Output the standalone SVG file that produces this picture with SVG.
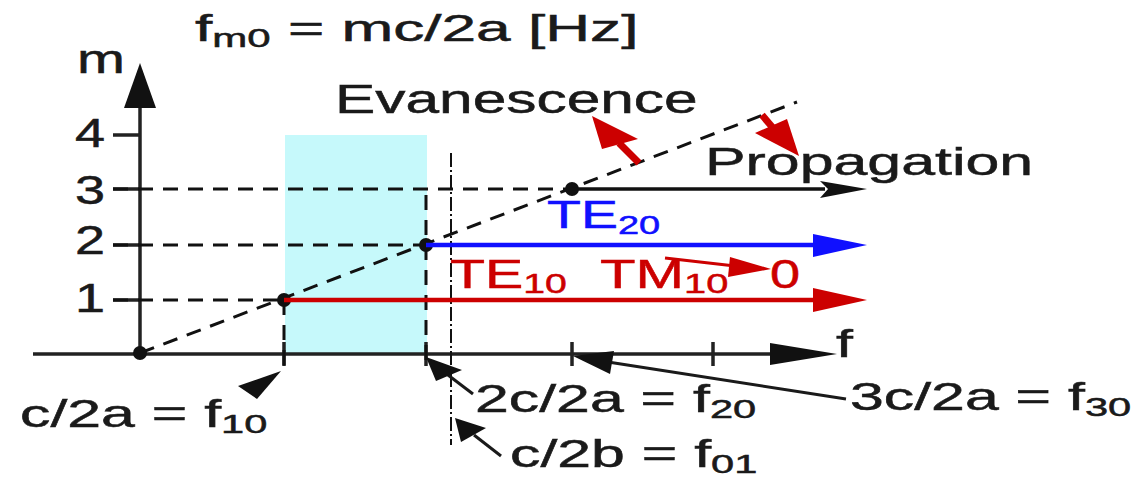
<svg xmlns="http://www.w3.org/2000/svg" width="1135" height="477" viewBox="0 0 1135 477">
<style>
  text { font-family: "Liberation Sans", Arial, sans-serif; fill: #1a1a1a; stroke: #1a1a1a; stroke-width: 0.5; }
  .blue { fill: #1010ff; stroke: #1010ff; }
  .red { fill: #cc0000; stroke: #cc0000; }
  .axis { stroke: #222; stroke-width: 3.5; fill: none; }
  .dash { stroke: #111; stroke-width: 3; stroke-dasharray: 15 10; fill: none; }
  .dashdot { stroke: #111; stroke-width: 2; stroke-dasharray: 14 3 2 3; fill: none; }
  .ptr { stroke: #1a1a1a; stroke-width: 3; fill: none; }
  .head { fill: #111; stroke: none; }
  .rhead { fill: #cc0000; stroke: none; }
  .dot { fill: #111; }
</style>

<rect id="evanescent-band" x="285" y="135" width="142" height="219" fill="#c6f9fb"/>

<g id="axes">
  <line class="axis" x1="140" y1="354" x2="140" y2="105"/>
  <polygon class="head" points="140,63 124,108 156,108"/>
  <line class="axis" x1="33" y1="354" x2="775" y2="354"/>
  <polygon class="head" points="837,354 770,343 770,365"/>
  <g class="axis">
    <line x1="113" y1="135" x2="140" y2="135"/>
    <line x1="113" y1="189" x2="140" y2="189"/>
    <line x1="113" y1="245" x2="140" y2="245"/>
    <line x1="113" y1="300" x2="140" y2="300"/>
    <line x1="284" y1="342" x2="284" y2="366"/>
    <line x1="426" y1="342" x2="426" y2="366"/>
    <line x1="572" y1="342" x2="572" y2="366"/>
    <line x1="713" y1="342" x2="713" y2="366"/>
  </g>
  <text transform="translate(77,73) scale(1.44,1)" font-size="40">m</text>
  <text transform="translate(836,357) scale(1.6,1)" font-size="38">f</text>
  <text transform="translate(75,147) scale(1.35,1)" font-size="40">4</text>
  <text transform="translate(75,204) scale(1.35,1)" font-size="40">3</text>
  <text transform="translate(75,254) scale(1.35,1)" font-size="40">2</text>
  <text transform="translate(75,312) scale(1.35,1)" font-size="40">1</text>
</g>

<g id="guides">
  <line class="dash" x1="113" y1="189" x2="572" y2="189"/>
  <line class="dash" x1="113" y1="245" x2="426" y2="245"/>
  <line class="dash" x1="113" y1="300" x2="284" y2="300"/>
  <line class="dash" x1="284" y1="300" x2="284" y2="370"/>
  <line class="dash" x1="426" y1="195" x2="426" y2="366"/>
  <line class="dashdot" x1="451" y1="153" x2="451" y2="445"/>
  <line class="dash" x1="140" y1="353" x2="797" y2="102" stroke-dasharray="16 12"/>
</g>

<g id="cutoff-points">
  <circle class="dot" cx="140" cy="353" r="7"/>
  <circle class="dot" cx="284" cy="300" r="7"/>
  <circle class="dot" cx="426" cy="245" r="7"/>
  <circle class="dot" cx="572" cy="189" r="7"/>
</g>

<g id="title">
  <text transform="translate(195,41) scale(1.68,1)" font-size="37">f<tspan font-size="25" dy="6">m0</tspan><tspan dy="-6"> = mc/2a [Hz]</tspan></text>
</g>

<g id="label-evanescence">
  <text transform="translate(335,113) scale(1.51,1)" font-size="40">Evanescence</text>
</g>
<g id="label-propagation">
  <text transform="translate(705,175) scale(1.56,1)" font-size="39">Propagation</text>
</g>

<g id="mode-TE30">
  <line x1="572" y1="189" x2="825" y2="189" stroke="#111" stroke-width="3.5"/>
  <polygon class="head" points="867,189 820,181 828,189 820,198"/>
</g>
<g id="mode-TE20">
  <line x1="426" y1="245" x2="820" y2="245" stroke="#1010ff" stroke-width="4.5"/>
  <polygon points="867,245 813,234 813,257" fill="#1010ff"/>
  <text class="blue" transform="translate(547,228) scale(1.46,1)" font-size="38">TE<tspan font-size="26" dy="6">20</tspan></text>
</g>
<g id="mode-TE10">
  <line x1="284" y1="300" x2="820" y2="300" stroke="#cc0000" stroke-width="4.5"/>
  <polygon class="rhead" points="867,300 813,288 813,312"/>
  <text class="red" transform="translate(450,288) scale(1.40,1)" font-size="41">TE<tspan font-size="28" dy="5">10</tspan></text>
</g>
<g id="mode-TM10">
  <text class="red" transform="translate(600,288) scale(1.42,1)" font-size="41">TM<tspan font-size="28" dy="5">10</tspan></text>
  <text class="red" transform="translate(770,288) scale(1.32,1)" font-size="41">0</text>
</g>

<g id="label-f10">
  <text transform="translate(20,427) scale(1.60,1)" font-size="38">c/2a = f<tspan font-size="26" dy="6">10</tspan></text>
</g>
<g id="label-f20">
  <text transform="translate(475,412) scale(1.60,1)" font-size="38">2c/2a = f<tspan font-size="26" dy="6">20</tspan></text>
</g>
<g id="label-f01">
  <text transform="translate(510,467) scale(1.60,1)" font-size="38">c/2b = f<tspan font-size="26" dy="6">01</tspan></text>
</g>
<g id="label-f30">
  <text transform="translate(850,410) scale(1.60,1)" font-size="38">3c/2a = f<tspan font-size="26" dy="6">30</tspan></text>
</g>

<g id="connectors">
  <line x1="619" y1="143" x2="639" y2="163" stroke="#cc0000" stroke-width="7"/>
  <polygon class="rhead" points="592,116 602,149 638,139"/>
  <line x1="762" y1="115" x2="773" y2="128" stroke="#cc0000" stroke-width="7"/>
  <polygon class="rhead" points="799,156 755,133 787,119"/>
  <line x1="665" y1="258" x2="735" y2="266" stroke="#cc0000" stroke-width="3"/>
  <polygon class="rhead" points="771,269 730,257 728,277"/>
  <polygon class="head" points="281,371 238,386 257,399"/>
  <line class="ptr" x1="448" y1="375" x2="473" y2="394"/>
  <polygon class="head" points="426,357 436,381 462,370"/>
  <line class="ptr" x1="474" y1="435" x2="501" y2="456"/>
  <polygon class="head" points="455,418 461,442 486,428"/>
  <line class="ptr" x1="608" y1="362" x2="846" y2="399"/>
  <polygon class="head" points="573,356 614,351 610,374"/>
</g>
</svg>
